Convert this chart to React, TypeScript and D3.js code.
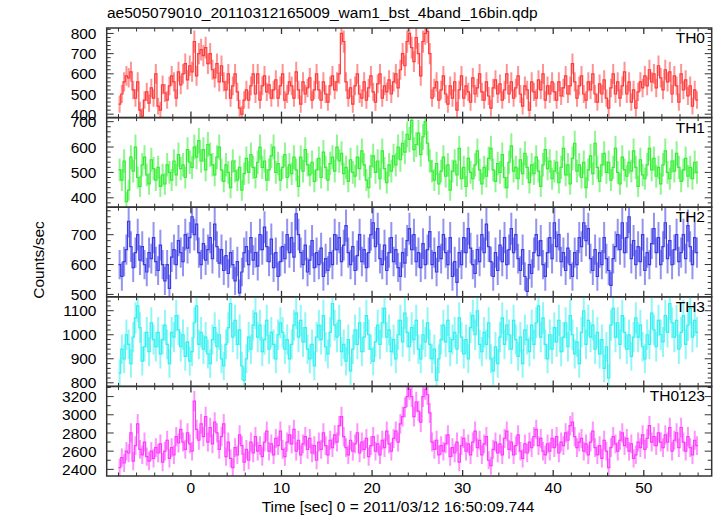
import React from "react";
import * as d3 from "d3";

const T_START = -8;
const BIN = 0.25;

const th0 = [
  450, 500, 560, 590, 580, 610, 520, 480, 560, 420, 390, 470, 510, 455, 530, 480,
  600, 440, 420, 545, 505, 470, 540, 590, 560, 480, 610, 545, 600, 650, 570, 640,
  610, 760, 590, 700, 720, 690, 730, 650, 700, 620, 580, 650, 560, 640, 560, 520,
  600, 480, 540, 600, 510, 430, 400, 470, 520, 470, 540, 600, 500, 600, 470, 540,
  590, 510, 545, 480, 520, 570, 480, 540, 600, 470, 500, 560, 540, 480, 610, 520,
  450, 560, 500, 530, 580, 470, 520, 600, 520, 470, 560, 500, 460, 540, 590, 520,
  560, 600, 800, 760, 560, 480, 530, 450, 540, 600, 500, 480, 560, 470, 530, 590,
  510, 460, 550, 600, 480, 540, 510, 570, 500, 560, 600, 530, 620, 700, 640, 760,
  800, 730, 660, 780, 700, 590, 760, 800, 810, 700, 480, 530, 560, 470, 520, 590,
  500, 450, 540, 480, 560, 420, 520, 590, 480, 540, 510, 460, 580, 500, 530, 600,
  510, 470, 560, 490, 430, 530, 570, 500, 550, 470, 520, 600, 500, 560, 480, 530,
  590, 500, 440, 540, 520, 420, 560, 510, 480, 570, 520, 600, 470, 540, 500, 560,
  510, 470, 560, 490, 530, 590, 500, 540, 650, 560, 480, 540, 590, 500, 470, 560,
  520, 600, 500, 460, 550, 500, 570, 480, 430, 530, 600, 500, 560, 480, 540, 610,
  500, 560, 460, 520, 430, 510, 560, 530, 590, 540, 620, 560, 600, 530, 640, 580,
  520, 620, 560, 610, 500, 590, 540, 460, 600, 520, 570, 490, 540, 440, 520, 470,
];

const th1 = [
  510, 470, 545, 385, 430, 560, 505, 600, 480, 445, 530, 560, 490, 455, 550, 515,
  470, 520, 445, 490, 455, 530, 500, 470, 545, 490, 570, 515, 530, 480, 590, 540,
  520, 600, 560, 625, 545, 590, 510, 610, 570, 530, 490, 560, 600, 510, 465, 530,
  500, 440, 545, 505, 470, 520, 430, 495, 555, 500, 570, 520, 480, 540, 600, 520,
  545, 470, 510, 565, 600, 500, 535, 470, 520, 570, 480, 530, 495, 560, 510, 445,
  560, 505, 590, 530, 490, 540, 465, 510, 555, 480, 580, 520, 470, 535, 560, 505,
  600, 545, 575, 495, 520, 465, 550, 500, 485, 560, 515, 585, 530, 470, 440, 525,
  565, 500, 545, 475, 585, 515, 460, 530, 505, 565, 530, 600, 550, 615, 580, 650,
  630, 705, 590, 610, 655, 570, 640, 700, 615, 545, 505, 470, 535, 455, 505, 560,
  485, 530, 430, 505, 545, 490, 595, 475, 520, 445, 555, 500, 475, 530, 585, 510,
  455, 520, 485, 555, 595, 510, 465, 535, 500, 570, 480, 440, 540, 605, 505, 520,
  475, 550, 495, 575, 520, 460, 530, 495, 560, 505, 445, 530, 590, 515, 545, 475,
  505, 540, 460, 520, 595, 490, 530, 455, 555, 615, 505, 530, 480, 540, 440, 510,
  565, 495, 615, 520, 465, 530, 575, 500, 540, 470, 520, 595, 500, 455, 560, 510,
  485, 540, 505, 585, 520, 445, 550, 490, 475, 530, 595, 510, 555, 485, 520, 455,
  530, 585, 500, 475, 545, 505, 575, 520, 465, 510, 555, 485, 520, 475, 540, 500,
];

const th2 = [
  600, 560, 610, 650, 745, 660, 590, 640, 700, 615, 660, 600, 575, 640, 620, 690,
  610, 580, 665, 600, 545, 600, 520, 625, 650, 600, 680, 640, 610, 700, 655, 690,
  760, 700, 735, 640, 600, 670, 615, 650, 690, 620, 735, 660, 605, 650, 580, 630,
  570, 640, 600, 545, 610, 505, 575, 640, 660, 600, 690, 615, 640, 595, 700, 650,
  725, 660, 610, 685, 590, 640, 560, 610, 660, 620, 700, 640, 690, 625, 770, 700,
  640, 600, 665, 575, 615, 680, 590, 640, 600, 655, 560, 620, 580, 640, 600, 700,
  650, 690, 610, 665, 730, 640, 600, 660, 580, 630, 700, 610, 650, 590, 640, 700,
  740, 660, 720, 620, 600, 665, 580, 640, 690, 610, 650, 590, 560, 640, 605, 680,
  720, 650, 700, 610, 640, 590, 670, 600, 650, 710, 600, 640, 575, 660, 620, 700,
  640, 600, 690, 560, 610, 540, 640, 600, 690, 640, 720, 655, 600, 570, 650, 610,
  700, 640, 735, 660, 610, 560, 640, 580, 665, 610, 690, 600, 650, 720, 640, 700,
  620, 580, 650, 560, 510, 600, 570, 640, 700, 630, 680, 600, 560, 640, 690, 620,
  740, 660, 700, 610, 640, 580, 655, 600, 560, 640, 600, 690, 660, 740, 680, 720,
  620, 580, 650, 560, 640, 600, 690, 620, 580, 530, 620, 660, 700, 650, 740, 640,
  690, 760, 620, 680, 600, 660, 610, 700, 580, 640, 600, 670, 720, 640, 690, 600,
  660, 740, 620, 680, 600, 650, 700, 610, 640, 700, 620, 730, 660, 600, 690, 640,
];

const th3 = [
  840, 940, 900, 1000, 960, 880, 990, 1070, 1120, 1030, 890, 950, 1010, 930, 1050, 980,
  950, 1010, 920, 980, 1040, 960, 880, 1010, 990, 1080, 1020, 950, 1000, 910, 970, 890,
  930, 1050, 1120, 960, 1010, 940, 990, 920, 880, 980, 1030, 950, 1000, 900, 870, 960,
  1030, 1130, 990, 1060, 960, 1020, 870, 810, 900, 990, 940, 1040, 1090, 990, 1040, 930,
  980, 1060, 940, 1010, 960, 900, 1000, 1050, 1010, 940, 980, 900, 960, 1040, 1090, 990,
  1060, 970, 1030, 940, 900, 960, 870, 990, 1040, 980, 1080, 950, 920, 1010, 1130, 1040,
  990, 1060, 930, 960, 890, 980, 850, 940, 1020, 960, 1050, 930, 990, 1080, 1000, 940,
  890, 970, 1040, 960, 1050, 1110, 990, 1020, 930, 980, 900, 1000, 1060, 970, 1090, 1010,
  950, 1030, 980, 1060, 940, 900, 1000, 970, 1050, 960, 900, 940, 810, 900, 980, 1040,
  970, 1060, 930, 980, 1010, 940, 1070, 990, 920, 980, 900, 1030, 1080, 1000, 1100, 960,
  930, 1010, 960, 1050, 900, 850, 950, 880, 990, 1070, 960, 1040, 1000, 940, 1060, 980,
  910, 990, 880, 1020, 980, 930, 1040, 960, 1050, 1120, 990, 1070, 960, 900, 1000, 940,
  1030, 970, 1060, 930, 990, 1050, 950, 1080, 1000, 920, 970, 880, 1010, 1100, 960, 1060,
  990, 1040, 940, 1010, 920, 980, 860, 950, 820, 1040, 1110, 990, 1050, 960, 1080, 1010,
  940, 1000, 910, 990, 1070, 990, 1040, 950, 900, 1000, 960, 1090, 1020, 950, 1060, 1000,
  970, 1080, 1010, 1130, 1050, 990, 1060, 940, 1010, 1080, 960, 1040, 1110, 990, 1060, 1010,
];

const th0123 = [
  2420, 2530, 2470, 2600, 2580, 2800, 2490, 2660, 2900, 2620, 2560, 2700, 2540, 2490, 2600, 2520,
  2640, 2580, 2680, 2480, 2600, 2720, 2520, 2640, 2560, 2760, 2690, 2840, 2700, 2620, 2800, 2680,
  2600, 3150, 2840, 2720, 2900, 2760, 2980, 2700, 2860, 2680, 2920, 2800, 2620, 2760, 2900, 2540,
  2700, 2520, 2420, 2640, 2560, 2780, 2660, 2480, 2620, 2500, 2700, 2580, 2760, 2600, 2660, 2540,
  2700, 2820, 2600, 2680, 2560, 2740, 2660, 2820, 2620, 2540, 2700, 2780, 2680, 2840, 2600, 2720,
  2560, 2680, 2760, 2620, 2740, 2580, 2660, 2500, 2700, 2620, 2800, 2660, 2560, 2720, 2640, 2780,
  2700, 2880, 2980, 2760, 2640, 2560, 2720, 2600, 2680, 2800, 2580, 2700, 2620, 2740, 2540, 2660,
  2760, 2600, 2680, 2560, 2720, 2640, 2820, 2680, 2600, 2740, 2820, 2700, 2900, 2980, 3080, 3200,
  3280, 3200, 2980, 3140, 3040, 2920, 3200, 3280, 3220, 3020, 2700, 2620, 2720, 2560, 2660, 2600,
  2680, 2780, 2540, 2640, 2580, 2700, 2480, 2660, 2740, 2600, 2680, 2560, 2700, 2820, 2640, 2720,
  2560, 2680, 2760, 2500, 2440, 2620, 2700, 2580, 2680, 2560, 2740, 2820, 2620, 2700, 2560, 2660,
  2780, 2600, 2520, 2680, 2580, 2700, 2640, 2760, 2840, 2660, 2740, 2600, 2560, 2680, 2600, 2740,
  2640, 2760, 2580, 2700, 2660, 2800, 2720, 2880, 2920, 2760, 2640, 2700, 2740, 2600, 2680, 2560,
  2700, 2820, 2640, 2560, 2660, 2520, 2720, 2600, 2420, 2640, 2760, 2680, 2600, 2720, 2800, 2660,
  2740, 2600, 2680, 2520, 2560, 2700, 2640, 2780, 2620, 2740, 2880, 2700, 2760, 2660, 2800, 2700,
  2640, 2780, 2700, 2860, 2600, 2720, 2800, 2640, 2860, 2700, 2600, 2760, 2640, 2560, 2720, 2660,
];

const panelNames = ["TH0", "TH1", "TH2", "TH3", "TH0123"];
const panelData = [th0, th1, th2, th3, th0123];
const panelDomains: [number, number][] = [
  [383, 827],
  [363, 716],
  [492, 792],
  [785, 1158],
  [2327, 3312],
];
const panelTicks = [
  [400, 500, 600, 700, 800],
  [400, 500, 600, 700],
  [500, 600, 700],
  [800, 900, 1000, 1100],
  [2400, 2600, 2800, 3000, 3200],
];
const panelMinor = [20, 20, 20, 20, 100];
const panelColors = ["#ff3a3a", "#33ee33", "#3b3be6", "#33f0f0", "#ff3aff"];
const xTicks = [0, 10, 20, 30, 40, 50];

const TITLE = "ae505079010_20110312165009_wam1_bst_4band_16bin.qdp";
const XLABEL = "Time [sec] 0 = 2011/03/12 16:50:09.744";
const YLABEL = "Counts/sec";

const W = 717;
const H = 516;
const LEFT = 106.7;
const RIGHT = 711.7;
const TOP = 28;
const BOTTOM = 476;
const FONT = "'Liberation Sans', Arial, Helvetica, sans-serif";
const AXIS = "#333";

export default function App() {
  const x = d3.scaleLinear().domain([-9.3, 57.5]).range([LEFT, RIGHT]);
  const ph = (BOTTOM - TOP) / panelNames.length;
  const xMinor = d3.range(-8, 58, 2);
  const line = d3.line<[number, number]>().x((d) => d[0]).y((d) => d[1]);

  return (
    <svg
      width={W}
      height={H}
      style={{ position: "absolute", left: 0, top: 0, display: "block", background: "#fff" }}
      fontFamily={FONT}
    >
      <defs>
        {panelNames.map((n, i) => (
          <clipPath id={"clip" + i} key={n}>
            <rect x={LEFT} y={TOP + i * ph} width={RIGHT - LEFT} height={ph} />
          </clipPath>
        ))}
      </defs>
      <text x={107} y={17.5} fontSize={15.5} fill="#000">
        {TITLE}
      </text>
      {panelNames.map((name, i) => {
        const top = TOP + i * ph;
        const bot = top + ph;
        const y = d3.scaleLinear().domain(panelDomains[i]).range([bot, top]);
        const data = panelData[i];
        const color = panelColors[i];
        const pts: [number, number][] = [];
        data.forEach((v, k) => {
          const t0 = T_START + k * BIN;
          pts.push([x(t0), y(v)]);
          pts.push([x(t0 + BIN), y(v)]);
        });
        const minorTicks = d3
          .range(Math.ceil(panelDomains[i][0] / panelMinor[i]) * panelMinor[i], panelDomains[i][1], panelMinor[i])
          .filter((v) => !panelTicks[i].includes(v));
        return (
          <g key={name}>
            <g clipPath={`url(#clip${i})`}>
              {data.map((v, k) => {
                const tc = T_START + (k + 0.5) * BIN;
                const e = Math.sqrt(v / BIN);
                return (
                  <line
                    key={k}
                    x1={x(tc)}
                    x2={x(tc)}
                    y1={y(v - e)}
                    y2={y(v + e)}
                    stroke={color}
                    strokeOpacity={0.55}
                    strokeWidth={2}
                  />
                );
              })}
              <path d={line(pts) || ""} fill="none" stroke={color} strokeWidth={1.2} />
            </g>
            {panelTicks[i].map((v) => (
              <g key={"yt" + v}>
                <line x1={LEFT} x2={LEFT + 7} y1={y(v)} y2={y(v)} stroke={AXIS} strokeWidth={1} />
                <line x1={RIGHT} x2={RIGHT - 7} y1={y(v)} y2={y(v)} stroke={AXIS} strokeWidth={1} />
                <text x={96.5} y={y(v)} dy="0.36em" textAnchor="end" fontSize={15.5} fill="#000">
                  {v}
                </text>
              </g>
            ))}
            {minorTicks.map((v) => (
              <g key={"ym" + v}>
                <line x1={LEFT} x2={LEFT + 4} y1={y(v)} y2={y(v)} stroke={AXIS} strokeWidth={1} />
                <line x1={RIGHT} x2={RIGHT - 4} y1={y(v)} y2={y(v)} stroke={AXIS} strokeWidth={1} />
              </g>
            ))}
            {xMinor.map((t) => {
              const major = t % 10 === 0;
              const len = major ? 6 : 3.5;
              return (
                <g key={"xt" + t}>
                  <line x1={x(t)} x2={x(t)} y1={top} y2={top + len} stroke={AXIS} strokeWidth={major ? 1.3 : 1} />
                  <line x1={x(t)} x2={x(t)} y1={bot} y2={bot - len} stroke={AXIS} strokeWidth={major ? 1.3 : 1} />
                </g>
              );
            })}
            <rect
              x={LEFT}
              y={top}
              width={RIGHT - LEFT}
              height={ph}
              fill="none"
              stroke={AXIS}
              strokeWidth={1.5}
            />
            <text x={705} y={top + 15} textAnchor="end" fontSize={15.5} fill="#000">
              {name}
            </text>
          </g>
        );
      })}
      {xTicks.map((t) => (
        <text key={"xl" + t} x={x(t)} y={492.5} textAnchor="middle" fontSize={15.5} fill="#000">
          {t}
        </text>
      ))}
      <text x={398} y={511.5} textAnchor="middle" fontSize={15.5} fill="#000">
        {XLABEL}
      </text>
      <text
        transform={`translate(43.5,260) rotate(-90)`}
        textAnchor="middle"
        fontSize={15.5}
        fill="#000"
      >
        {YLABEL}
      </text>
    </svg>
  );
}
